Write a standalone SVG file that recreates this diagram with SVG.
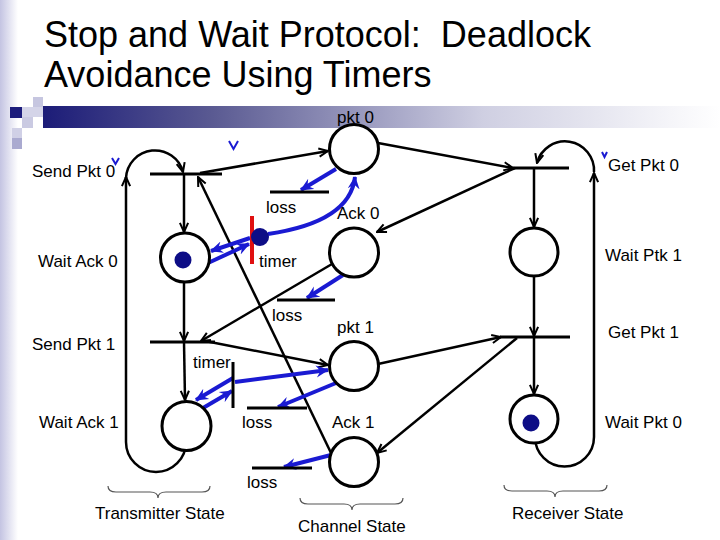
<svg xmlns="http://www.w3.org/2000/svg" width="720" height="540" viewBox="0 0 720 540">
<defs>
<linearGradient id="bar" x1="0" y1="0" x2="1" y2="0">
<stop offset="0" stop-color="#1c1c78"/>
<stop offset="0.25" stop-color="#5a5a92"/>
<stop offset="0.5" stop-color="#a2a2c4"/>
<stop offset="0.65" stop-color="#cfcfe2"/>
<stop offset="1" stop-color="#ffffff"/>
</linearGradient>
<linearGradient id="edge" x1="0" y1="0" x2="1" y2="0">
<stop offset="0" stop-color="#c4c4e2"/>
<stop offset="1" stop-color="#ffffff"/>
</linearGradient>
<marker id="a" viewBox="0 0 12 12" refX="11" refY="6" markerWidth="11" markerHeight="11" orient="auto" markerUnits="userSpaceOnUse">
<path d="M1,1.5 L11,6 L1,10.5" fill="none" stroke="#000" stroke-width="2.2"/>
</marker>
<marker id="b" viewBox="0 0 12 12" refX="11" refY="6" markerWidth="13" markerHeight="13" orient="auto" markerUnits="userSpaceOnUse">
<path d="M0,0.5 L12,6 L0,11.5 L4,6 z" fill="#1a1ad2"/>
</marker>
<style>
.t{font-family:"Liberation Sans",Arial,sans-serif;font-size:17px;fill:#000}
.title{font-family:"Liberation Sans",Arial,sans-serif;font-size:36px;fill:#000;white-space:pre}
.k{stroke:#000;stroke-width:2.5;fill:none}
.kb{stroke:#000;stroke-width:3;fill:none}
.c{stroke:#000;stroke-width:3;fill:#fff}
.bl{stroke:#1a1ad2;stroke-width:4;fill:none}
.tok{fill:#0d0d86}
.br{stroke:#555;stroke-width:1.2;fill:none}
.v{stroke:#1a1ad2;stroke-width:2;fill:none}
</style>
</defs>
<rect x="0" y="0" width="720" height="540" fill="#fff"/>
<rect x="0" y="0" width="18" height="540" fill="url(#edge)"/>
<g id="decoration">
<rect x="43" y="106" width="677" height="22" fill="url(#bar)"/>
<rect x="33" y="97" width="10" height="10" fill="#c6c6e0"/>
<rect x="22" y="107" width="21" height="10" fill="#d4d4e8"/>
<rect x="10" y="107" width="12" height="11" fill="#1c1c7c"/>
<rect x="22" y="117" width="11" height="11" fill="#cacae2"/>
<rect x="12" y="128" width="10" height="10" fill="#d0d0e6"/>
<rect x="12" y="138" width="10" height="11" fill="#aaaad0"/>
</g>
<text class="title" x="44" y="47" xml:space="preserve">Stop and Wait Protocol:  Deadlock</text>
<text class="title" x="44" y="87">Avoidance Using Timers</text>

<g id="connectors">
<line class="k" x1="200" y1="173" x2="328" y2="151" marker-end="url(#a)"/>
<line class="k" x1="184" y1="174" x2="184" y2="232" marker-end="url(#a)"/>
<line class="k" x1="184" y1="282" x2="184" y2="341" marker-end="url(#a)"/>
<line class="k" x1="184" y1="342" x2="185" y2="400" marker-end="url(#a)"/>
<line class="k" x1="332" y1="264" x2="201" y2="341" marker-end="url(#a)"/>
<line class="k" x1="205" y1="341" x2="328" y2="365" marker-end="url(#a)"/>
<line class="k" x1="332" y1="455" x2="198" y2="177" marker-end="url(#a)"/>
<line class="k" x1="378" y1="143" x2="513" y2="168" marker-end="url(#a)"/>
<line class="k" x1="515" y1="168" x2="377" y2="232" marker-end="url(#a)"/>
<line class="k" x1="534" y1="168" x2="534" y2="227" marker-end="url(#a)"/>
<line class="k" x1="534" y1="276" x2="534" y2="336" marker-end="url(#a)"/>
<line class="k" x1="534" y1="337" x2="534" y2="394" marker-end="url(#a)"/>
<line class="k" x1="378" y1="364" x2="501" y2="337" marker-end="url(#a)"/>
<line class="k" x1="517" y1="338" x2="377" y2="453" marker-end="url(#a)"/>
<path class="k" d="M186,442 A30,30 0 0 1 126,442 V177" marker-end="url(#a)"/>
<path class="k" d="M126,178 A29,29 0 0 1 183,172" marker-end="url(#a)"/>
<path class="k" d="M535,437 A29.5,29.5 0 0 0 594,437 V173" marker-end="url(#a)"/>
<path class="k" d="M594,172 A29,29 0 0 0 537,163" marker-end="url(#a)"/>

<line class="bl" x1="336" y1="169" x2="301" y2="190" marker-end="url(#b)"/>
<path class="bl" d="M268,234 Q350,222 355,177" marker-end="url(#b)"/>
<line class="bl" x1="250" y1="238" x2="211" y2="251" marker-end="url(#b)"/>
<line class="bl" x1="208" y1="263" x2="249" y2="244" marker-end="url(#b)"/>
<line class="bl" x1="343" y1="275" x2="307" y2="298" marker-end="url(#b)"/>
<line class="bl" x1="233" y1="378" x2="196" y2="400" marker-end="url(#b)"/>
<line class="bl" x1="203" y1="408" x2="232" y2="391" marker-end="url(#b)"/>
<line class="bl" x1="235" y1="382" x2="328" y2="370" marker-end="url(#b)"/>
<line class="bl" x1="336" y1="383" x2="278" y2="407" marker-end="url(#b)"/>
<line class="bl" x1="331" y1="455" x2="284" y2="467" marker-end="url(#b)"/>
</g>

<g id="send-pkt-0"><line class="kb" x1="150" y1="174" x2="222" y2="174"/><text class="t" x="32" y="177">Send Pkt 0</text></g>
<g id="send-pkt-1"><line class="kb" x1="150" y1="342" x2="215" y2="342"/><text class="t" x="32" y="350">Send Pkt 1</text></g>
<g id="wait-ack-0"><circle class="c" cx="185" cy="257.5" r="24.5"/><circle class="tok" cx="183" cy="260" r="8.5"/><text class="t" x="38" y="267">Wait Ack 0</text></g>
<g id="wait-ack-1"><circle class="c" cx="186.5" cy="426" r="24.5"/><text class="t" x="39" y="428">Wait Ack 1</text></g>

<g id="pkt-0"><circle class="c" cx="354" cy="149" r="24.5"/><text class="t" x="337" y="123">pkt 0</text></g>
<g id="ack-0"><circle class="c" cx="354" cy="252.5" r="24.5"/><text class="t" x="337" y="219">Ack 0</text></g>
<g id="pkt-1"><circle class="c" cx="354" cy="366" r="24.5"/><text class="t" x="337" y="333">pkt 1</text></g>
<g id="ack-1"><circle class="c" cx="354" cy="462" r="24.5"/><text class="t" x="332" y="428">Ack 1</text></g>

<g id="loss-0"><line class="kb" x1="270" y1="192" x2="329" y2="192"/><text class="t" x="266" y="213">loss</text></g>
<g id="loss-ack-0"><line class="kb" x1="277" y1="300" x2="335" y2="300"/><text class="t" x="272" y="321">loss</text></g>
<g id="loss-1"><line class="kb" x1="247" y1="408" x2="307" y2="408"/><text class="t" x="242" y="428">loss</text></g>
<g id="loss-ack-1"><line class="kb" x1="252" y1="468" x2="312" y2="468"/><text class="t" x="247" y="488">loss</text></g>

<g id="timer-0"><line x1="252" y1="216" x2="252" y2="264" stroke="#e01010" stroke-width="4"/><circle class="tok" cx="260" cy="237" r="9"/><text class="t" x="259" y="267">timer</text></g>
<g id="timer-1"><text class="t" x="193" y="368">timer</text><line class="kb" x1="233" y1="362" x2="233" y2="408"/></g>

<g id="get-pkt-0"><line class="kb" x1="513" y1="168" x2="569" y2="168"/><text class="t" x="608" y="171">Get Pkt 0</text></g>
<g id="wait-ptk-1"><circle class="c" cx="534" cy="252" r="24"/><text class="t" x="605" y="261">Wait Ptk 1</text></g>
<g id="get-pkt-1"><line class="kb" x1="500" y1="337" x2="570" y2="337"/><text class="t" x="608" y="338">Get Pkt 1</text></g>
<g id="wait-pkt-0"><circle class="c" cx="534" cy="419" r="24"/><circle class="tok" cx="531" cy="423" r="8.5"/><text class="t" x="605" y="428">Wait Pkt 0</text></g>

<g id="marks">
<polyline class="v" points="112,158 115.5,164 119,158"/>
<polyline class="v" points="229,141 233.5,149 238,141"/>
<polyline class="v" points="602,152 604.5,157 607,152"/>
</g>

<g id="braces">
<path class="br" d="M108,486 Q108,492 116,492 L150,492 Q158,492 158,498 Q158,492 166,492 L202,492 Q210,492 210,486"/>
<path class="br" d="M300,498 Q300,504 308,504 L344,504 Q352,504 352,510 Q352,504 360,504 L395,504 Q403,504 403,498"/>
<path class="br" d="M504,485 Q504,491 512,491 L547,491 Q555,491 555,497 Q555,491 563,491 L599,491 Q607,491 607,485"/>
<text class="t" x="95" y="519">Transmitter State</text>
<text class="t" x="298" y="532">Channel State</text>
<text class="t" x="512" y="519">Receiver State</text>
</g>
</svg>
